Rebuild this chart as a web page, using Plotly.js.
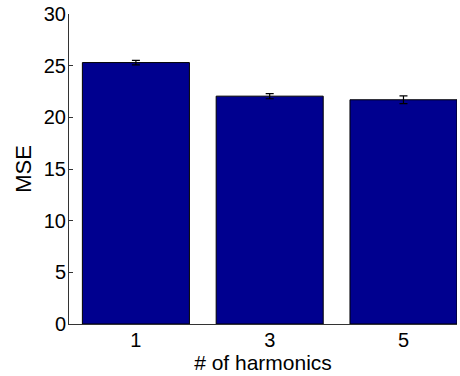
<!DOCTYPE html>
<html><head><meta charset="utf-8">
<script src="https://cdn.plot.ly/plotly-3.0.1.min.js"></script>
<style>html,body{margin:0;padding:0;background:#fff;overflow:hidden}</style>
</head><body>
<div id="chart" style="width:460px;height:376px"></div>
<script>
const categories = ["1", "3", "5"];
const mse = [25.3, 22.05, 21.7];
const mseErr = [0.22, 0.25, 0.38];

const positions = categories.map((c, i) => i + 1);

const trace = {
  type: "bar",
  x: positions,
  y: mse,
  width: 0.8,
  marker: { color: "rgb(0,0,143)", line: { color: "#000", width: 1 } },
  error_y: { type: "data", array: mseErr, visible: true, color: "#000", thickness: 1.2, width: 4 },
  hoverinfo: "none"
};

const layout = {
  width: 460, height: 376,
  margin: { l: 69, r: 3, t: 14, b: 52 },
  paper_bgcolor: "#fff", plot_bgcolor: "#fff",
  showlegend: false,
  font: { family: "Liberation Sans, Arial, sans-serif", size: 20, color: "#000" },
  xaxis: {
    range: [0.5, 3.4],
    tickvals: positions, ticktext: categories,
    ticks: "", showgrid: false, zeroline: false,
    showline: true, linecolor: "#333", linewidth: 1,
    tickfont: { size: 20 },
    ticklabelstandoff: -2,
    title: { text: "# of harmonics", font: { size: 21 }, standoff: 0 }
  },
  yaxis: {
    range: [0, 30],
    tickvals: [0, 5, 10, 15, 20, 25, 30],
    ticks: "inside", ticklen: 4, tickcolor: "#333",
    showgrid: false, zeroline: false,
    showline: true, linecolor: "#333", linewidth: 1,
    tickfont: { size: 20 },
    ticklabelstandoff: -2,
    title: { text: "MSE", font: { size: 22 }, standoff: 6 }
  }
};

Plotly.newPlot("chart", [trace], layout, { staticPlot: true, displayModeBar: false });
</script>
</body></html>
